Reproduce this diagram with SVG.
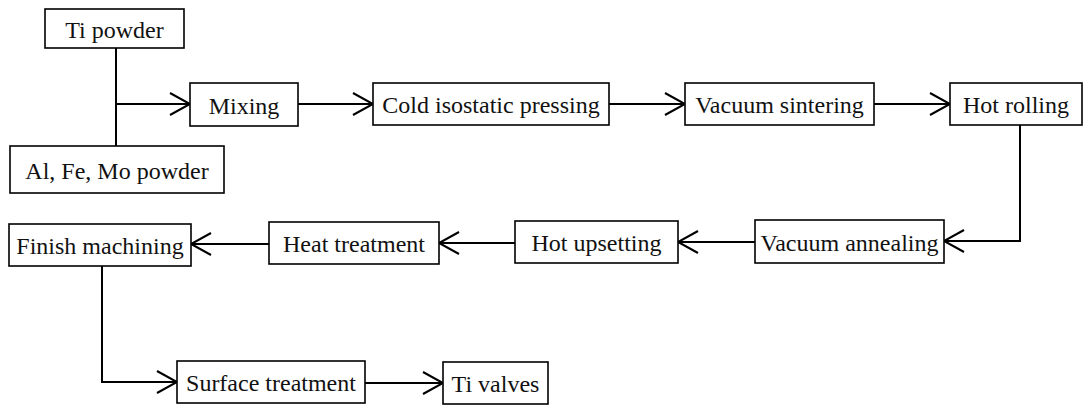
<svg xmlns="http://www.w3.org/2000/svg" width="1083" height="405" viewBox="0 0 1083 405">
<style>
.box{fill:#fff;stroke:#000;stroke-width:1.6}
.lbl{font-family:"Liberation Serif","Times New Roman",serif;font-size:24px;fill:#111;text-anchor:middle}
.c{fill:none;stroke:#000;stroke-width:2}
</style>
<defs>
<marker id="arr" markerUnits="userSpaceOnUse" viewBox="-22 -12 24 24" refX="0" refY="0" markerWidth="24" markerHeight="24" orient="auto" overflow="visible">
<path d="M-20,-11 L0,0 L-20,11" fill="none" stroke="#000" stroke-width="2"/>
</marker>
</defs>
<rect width="1083" height="405" fill="#fff"/>
<g id="connectors">
<line class="c" x1="116" y1="48" x2="116" y2="146"/>
<line class="c" x1="116" y1="104" x2="190" y2="104" marker-end="url(#arr)"/>
<line class="c" x1="298" y1="104" x2="373" y2="104" marker-end="url(#arr)"/>
<line class="c" x1="609" y1="104" x2="685" y2="104" marker-end="url(#arr)"/>
<line class="c" x1="874" y1="104" x2="950" y2="104" marker-end="url(#arr)"/>
<polyline class="c" points="1020,125 1020,241 944,241" marker-end="url(#arr)"/>
<line class="c" x1="755" y1="242" x2="678" y2="242" marker-end="url(#arr)"/>
<line class="c" x1="515" y1="243" x2="439" y2="243" marker-end="url(#arr)"/>
<line class="c" x1="269" y1="244" x2="191" y2="244" marker-end="url(#arr)"/>
<polyline class="c" points="102,266 102,382 177,382" marker-end="url(#arr)"/>
<line class="c" x1="365" y1="383" x2="443" y2="383" marker-end="url(#arr)"/>
</g>
<g id="ti-powder"><rect class="box" x="45" y="9" width="139" height="39"/><text class="lbl" x="114.5" y="37.5">Ti powder</text></g>
<g id="al-fe-mo"><rect class="box" x="10" y="146" width="214" height="47"/><text class="lbl" x="117" y="179">Al, Fe, Mo powder</text></g>
<g id="mixing"><rect class="box" x="190" y="83" width="108" height="43"/><text class="lbl" x="244" y="113.5">Mixing</text></g>
<g id="cold-pressing"><rect class="box" x="373" y="83" width="236" height="42"/><text class="lbl" x="491" y="113">Cold isostatic pressing</text></g>
<g id="vacuum-sintering"><rect class="box" x="685" y="83" width="189" height="42"/><text class="lbl" x="779.5" y="113">Vacuum sintering</text></g>
<g id="hot-rolling"><rect class="box" x="950" y="83" width="132" height="42"/><text class="lbl" x="1016" y="113">Hot rolling</text></g>
<g id="vacuum-annealing"><rect class="box" x="755" y="220" width="189" height="43"/><text class="lbl" x="849.5" y="250.5">Vacuum annealing</text></g>
<g id="hot-upsetting"><rect class="box" x="515" y="221" width="163" height="42"/><text class="lbl" x="596.5" y="251">Hot upsetting</text></g>
<g id="heat-treatment"><rect class="box" x="269" y="222" width="170" height="42"/><text class="lbl" x="354" y="252">Heat treatment</text></g>
<g id="finish-machining"><rect class="box" x="9" y="224" width="182" height="42"/><text class="lbl" x="100" y="254">Finish machining</text></g>
<g id="surface-treatment"><rect class="box" x="177" y="361" width="188" height="42"/><text class="lbl" x="271" y="391">Surface treatment</text></g>
<g id="ti-valves"><rect class="box" x="443" y="362" width="105" height="42"/><text class="lbl" x="495.5" y="392">Ti valves</text></g>
</svg>
